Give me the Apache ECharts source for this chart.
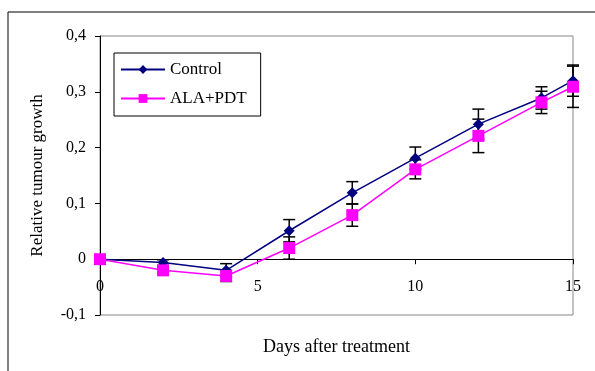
<!DOCTYPE html>
<html><head><meta charset="utf-8">
<script src="https://cdn.jsdelivr.net/npm/echarts@6/dist/echarts.min.js"></script>
<style>html,body{margin:0;padding:0;background:#fff}#c{width:595px;height:371px}</style>
</head><body><div id="c"></div>
<script>
const days = [0, 2, 4, 6, 8, 10, 12, 14, 15];
const control = [0, -0.006, -0.02, 0.051, 0.119, 0.181, 0.242, 0.289, 0.32];
const controlErr = [0, 0.005, 0.012, 0.02, 0.02, 0.02, 0.027, 0.02, 0.028];
const ala = [0, -0.02, -0.03, 0.02, 0.079, 0.161, 0.221, 0.281, 0.309];
const alaErr = [0, 0.005, 0.01, 0.02, 0.02, 0.017, 0.03, 0.02, 0.037];
const xTicks = [0, 5, 10, 15];
const yTicks = [-0.1, 0, 0.1, 0.2, 0.3, 0.4];

const font = 'Liberation Serif';
function errData(vals, errs) {
  return days.map((d, i) => [d, vals[i] - errs[i], vals[i] + errs[i]]);
}
function errRender(params, api) {
  const x = api.value(0);
  const lo = api.coord([x, api.value(1)]);
  const hi = api.coord([x, api.value(2)]);
  if (Math.abs(hi[1] - lo[1]) < 0.5) return;
  const w = 6;
  const st = {stroke: '#000', lineWidth: 1.5};
  return {type: 'group', children: [
    {type: 'line', shape: {x1: lo[0], y1: lo[1], x2: hi[0], y2: hi[1]}, style: st},
    {type: 'line', shape: {x1: lo[0] - w, y1: lo[1], x2: lo[0] + w, y2: lo[1]}, style: st},
    {type: 'line', shape: {x1: hi[0] - w, y1: hi[1], x2: hi[0] + w, y2: hi[1]}, style: st}
  ]};
}
const chart = echarts.init(document.getElementById('c'));
chart.setOption({
  animation: false,
  textStyle: {fontFamily: font},
  graphic: [{type: 'rect', shape: {x: 8, y: 12, width: 600, height: 380}, style: {fill: 'none', stroke: '#000', lineWidth: 1}, z: -1}],
  grid: {left: 100, top: 36, right: 22, bottom: 56, show: true, borderColor: '#888', borderWidth: 1,
    outerBoundsMode: 'none', containLabel: false},
  legend: {
    left: 114, top: 53, orient: 'vertical', itemGap: 12, itemWidth: 44, itemHeight: 11,
    padding: [8, 14, 9, 6], borderColor: '#000', borderWidth: 1,
    textStyle: {fontFamily: font, fontSize: 17, color: '#000'},
    data: ['Control', 'ALA+PDT']
  },
  xAxis: {
    type: 'value', min: 0, max: 15, interval: 5,
    name: 'Days after treatment', nameLocation: 'middle', nameGap: 23,
    nameTextStyle: {fontFamily: font, fontSize: 18, color: '#000'},
    axisLine: {onZero: true, lineStyle: {color: '#000', width: 1}},
    axisTick: {show: true, inside: false, length: 5, lineStyle: {color: '#000'}},
    axisLabel: {fontFamily: font, fontSize: 16, color: '#000', margin: -36,
      customValues: xTicks, formatter: v => String(v)},
    splitLine: {show: false}
  },
  yAxis: {
    type: 'value', min: -0.1, max: 0.4, interval: 0.1,
    name: 'Relative tumour growth', nameLocation: 'middle', nameGap: 54,
    nameTextStyle: {fontFamily: font, fontSize: 17, color: '#000'},
    axisLine: {show: true, lineStyle: {color: '#000', width: 1}},
    axisTick: {show: true, length: 5, lineStyle: {color: '#000'}},
    axisLabel: {fontFamily: font, fontSize: 16, color: '#000', margin: 14,
      formatter: v => { const r = Math.round(v * 10) / 10; return r === 0 ? '0' : r.toFixed(1).replace('.', ','); }},
    splitLine: {show: false}
  },
  series: [
    {type: 'custom', name: 'errC', renderItem: errRender, data: errData(control, controlErr), z: 3, silent: true},
    {type: 'custom', name: 'errA', renderItem: errRender, data: errData(ala, alaErr), z: 3, silent: true},
    {type: 'line', name: 'Control', data: days.map((d, i) => [d, control[i]]),
      symbol: 'diamond', symbolSize: 11, color: '#000080',
      lineStyle: {color: '#000080', width: 1.5}, itemStyle: {color: '#000080'}, z: 4},
    {type: 'line', name: 'ALA+PDT', data: days.map((d, i) => [d, ala[i]]),
      symbol: 'rect', symbolSize: 12, color: '#FF00FF',
      lineStyle: {color: '#FF00FF', width: 1.5}, itemStyle: {color: '#FF00FF'}, z: 5}
  ]
});
</script></body></html>
